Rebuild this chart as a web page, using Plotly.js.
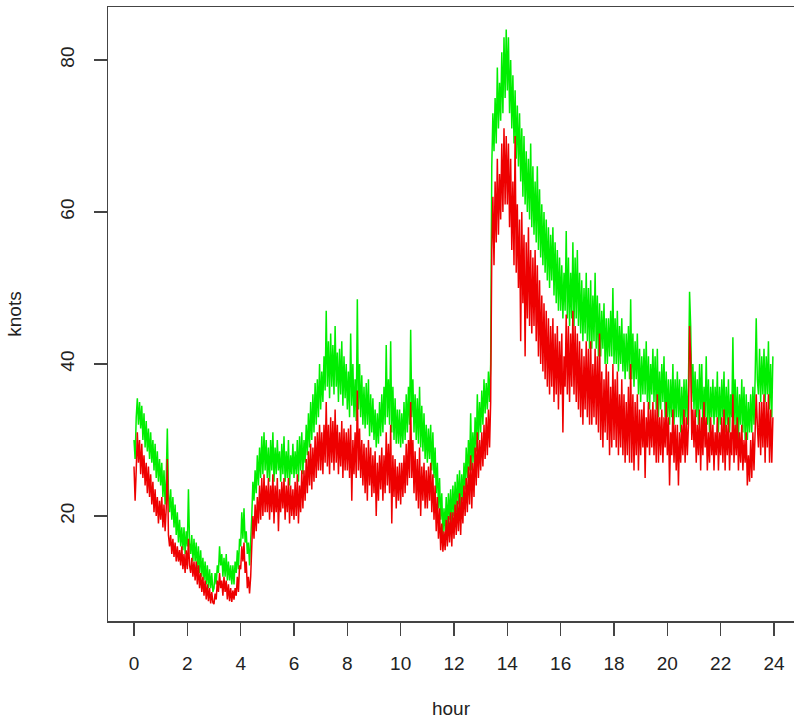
<!DOCTYPE html>
<html>
<head>
<meta charset="utf-8">
<script src="https://cdn.plot.ly/plotly-3.0.1.min.js"></script>
<style>html,body{margin:0;padding:0;background:#fff;}#chart{width:794px;height:726px;}</style>
</head>
<body>
<div id="chart"></div>
<script>
// 2.5-minute samples, one row per hour (24 per row)
var greenKnots = [
  30, 27.5, 33, 35.5, 32, 35, 31.5, 34.5, 30, 33.5, 29, 32.5, 28.5, 31.5, 27.5, 31, 27, 30, 26, 29.5, 25, 28.5, 24.5, 27.5,
  24, 27, 22.5, 26, 21.5, 25, 31.5, 23, 20.5, 23.5, 19.5, 22.5, 18.5, 21.5, 17.5, 20.5, 16.5, 19.5, 16, 18.5, 15.5, 18.5, 15, 18,
  16, 23.5, 16.5, 15, 17.5, 14, 17, 14, 16.5, 13, 16, 12.5, 15.5, 12, 14.5, 11.5, 14, 11, 13.5, 10.5, 13, 10.5, 12.5, 10,
  10.5, 12.5, 11, 13.5, 12.5, 16, 13.5, 15, 12, 14.5, 12, 15, 11.5, 14, 11.5, 13.5, 11, 13.5, 11, 14, 12.5, 15.5, 13, 17,
  16, 20.5, 17, 21, 16.5, 18, 15, 16.5, 13.5, 16, 20, 24.5, 22, 26, 23, 28, 24, 29, 25, 30.5, 25.5, 31, 26, 30,
  25, 29, 24.5, 30, 26, 31, 24.5, 29, 25.5, 30, 26, 28.5, 24.5, 29.5, 25.5, 30.5, 24.5, 28.5, 25, 30, 24, 28, 25.5, 29.5,
  25, 28.5, 25.5, 30, 24.5, 30.5, 26, 31, 25.5, 30, 27, 32, 28, 33.5, 29, 35, 30, 36, 31, 37.5, 32, 38, 33, 40,
  34, 39, 35, 41, 36.5, 47, 37, 43, 35.5, 44, 37, 42.5, 36, 45, 37, 41.5, 35, 42, 36, 43, 34.5, 41, 35.5, 40,
  34, 39, 33, 44, 34.5, 40, 33, 38, 32.5, 48.5, 34, 40, 33, 38.5, 32, 37, 31.5, 37.5, 32, 38, 30.5, 36, 31, 35.5,
  30, 34, 29, 33.5, 29.5, 35, 30.5, 36, 31, 37, 32, 42.5, 33, 38, 32, 43, 31, 37, 30, 35.5, 29.5, 34, 29.5, 34,
  29, 33.5, 29.5, 35, 30, 36, 31, 37, 32, 44.5, 33, 38, 31, 36, 30, 35.5, 29.5, 37, 29, 34.5, 28.5, 33.5, 27.5, 32,
  27, 31.5, 27.5, 32, 26, 31, 25, 29, 23, 27, 21, 25, 19.5, 23, 17.5, 21, 18, 22.5, 18.5, 23, 19.5, 23.5, 19, 24,
  20, 24.5, 20.5, 25.5, 21.5, 26, 21, 25.5, 22, 27, 23.5, 29, 25, 30, 26, 33.5, 26, 31, 27, 33, 28.5, 36, 30, 35,
  31, 36.5, 32, 38, 33.5, 37.5, 34, 39, 35, 40, 66, 73, 68, 75, 69, 79, 71, 77, 72, 81, 73, 83, 75, 84,
  76, 83, 73, 80, 71, 78, 69, 76, 67, 74, 66, 73, 64, 71, 62, 70, 61, 68, 60, 67, 59, 69, 58, 66,
  57, 64, 56, 66, 55, 63, 54, 61, 53, 60, 52, 59, 51, 58, 50, 57, 51, 58, 49, 56, 48, 55, 47, 54,
  47, 53, 46, 52, 47, 57.5, 46, 54, 45, 52, 46, 56, 45, 54, 46, 55, 45, 52, 44, 51, 43, 50, 44, 52,
  43, 50, 42, 51, 42, 49, 43, 52, 42, 49, 41, 48, 41, 47, 42, 48, 40, 46, 40, 46, 41, 47, 41, 50,
  40, 46, 40, 47, 39, 45, 40, 46, 39, 44, 38, 44, 39, 45, 38, 48.5, 38, 44, 37, 43, 38, 44, 36, 42,
  35, 41, 36, 42, 36, 43, 35, 41, 34, 40, 36, 42, 35, 41, 34, 42, 33, 39, 34, 40, 35, 41, 33, 39,
  33, 38, 32, 38, 33, 40, 32, 38, 33, 39, 33, 38, 31, 37, 32, 38, 33, 38, 32, 37, 49.5, 45, 35, 40,
  34, 39, 33, 38, 32, 40, 34, 40, 31, 37, 33, 41, 32, 38, 31, 37, 33, 38, 32, 37, 33, 39, 31, 37,
  32, 38, 33, 39, 31, 37, 32, 38, 31, 36, 33, 43.5, 32, 38, 31, 37, 30, 36, 32, 38, 31, 37, 30, 36,
  30, 35, 31, 36, 31, 37, 32, 38, 46, 38, 36, 42, 35, 41, 36, 42, 35, 41, 36, 43, 34, 40, 33, 41
];
var redKnots = [
  26.5, 22, 26, 31, 27, 30, 25.5, 29.5, 25, 28, 24, 27, 23, 26.5, 22.5, 25.5, 21.5, 24.5, 20.5, 23.5, 20, 22.5, 19, 22,
  19.5, 22.5, 18.5, 21.5, 18, 21, 27.5, 17.5, 16, 17.5, 15, 17, 14.6, 16.5, 14, 16, 14, 15.5, 13.5, 16, 13, 15, 12.5, 15.5,
  13, 17, 13.5, 12.5, 14.5, 12, 14, 11.5, 14, 11, 13.5, 10.5, 12.5, 10, 12, 9.5, 11.5, 9, 11, 8.8, 10.5, 8.5, 10, 8.6,
  8.4, 9.8, 9, 11.5, 10, 12.5, 10.5, 11.5, 9.5, 12, 10, 11.5, 9, 11, 8.8, 10.5, 8.7, 10.2, 9, 10.5, 9.5, 12, 10, 13.5,
  13, 16, 14, 16.5, 12.5, 14, 10.5, 12, 9.8, 12, 16, 20, 17, 21.5, 18, 22.5, 19, 24, 19.5, 25, 20, 25.5, 20.5, 24,
  20.5, 25, 19.5, 24, 20.5, 25.5, 19, 24, 20.5, 25, 18, 23.5, 20.5, 24.5, 21, 25, 19.5, 24, 20.5, 25, 19, 24, 20, 23.5,
  19.5, 24.5, 20, 25.5, 19, 24, 20.5, 26, 21, 26, 22, 27.5, 23, 28.5, 24, 29.5, 23.5, 29, 24.5, 30.5, 25, 31, 26, 32,
  26, 31, 25.5, 32, 27, 35, 26.5, 32, 25.5, 33, 27, 32.5, 26, 34, 27, 32, 25.5, 31, 26.5, 32.5, 25, 31.5, 26, 31,
  26, 31.5, 25, 32, 22, 30, 25.5, 31, 25, 36.5, 26, 31.5, 25, 30, 24, 29.5, 23, 29, 22, 30, 24, 29, 22.5, 28,
  23, 28.5, 20, 27, 22, 28, 23.5, 29, 22, 28, 23, 31, 24, 29.5, 23, 32, 19, 28, 22.5, 27.5, 21, 26.5, 22, 27,
  21.5, 27, 22.5, 28, 23, 29.5, 24, 30, 25, 35, 25, 30, 23, 28.5, 22, 27.5, 21, 29, 20, 26.5, 22, 27, 21, 26,
  21, 26.5, 22, 27, 20.5, 25.5, 19.5, 24, 18, 22.5, 17, 21, 15.5, 19, 15.3, 18, 15.5, 19.5, 16, 20, 16.5, 20.5, 16, 20.5,
  17, 21.5, 17.5, 22, 18, 23, 17.5, 22.5, 19, 24, 20, 25, 20.5, 26.5, 21.5, 28, 21, 27, 22.5, 29, 24, 31, 25, 30,
  26, 31, 26.5, 32, 27.5, 33, 28, 34, 29, 35, 55, 62, 53, 64, 56, 67, 57, 65, 59, 69, 60, 71, 61, 70,
  61, 69, 58, 67, 55, 64, 53, 70, 52, 61, 50, 59, 43, 60, 48, 57, 41, 56, 46, 58, 45, 55, 44, 54,
  45, 55, 43, 53, 41, 51, 40, 49, 39, 48, 38, 47, 37, 46, 36, 45, 37, 46, 35, 44, 36, 45, 34, 43,
  36, 44, 31, 41, 37, 46.5, 36, 45, 35, 44, 37, 47, 36, 45, 35, 44, 34, 43, 33, 42, 32, 41, 34, 43,
  33, 42, 32, 43, 32, 40, 33, 42, 32, 41, 31, 44, 30, 39, 29, 38, 31, 40, 30, 39, 28, 37, 29, 40,
  30, 38, 29, 39, 28, 36, 29, 38, 28, 36, 27, 35, 28, 37, 27, 40, 27, 36, 26, 35, 28, 36, 26, 34,
  28, 34, 29, 35, 25, 33, 29, 35, 28, 34, 29, 35, 28, 34, 27, 36, 27, 33, 28, 34, 27, 33, 29, 35,
  28, 33, 24, 31, 28, 34, 27, 32, 26, 32, 24, 31, 27, 32, 28, 34, 27, 33, 28, 32, 45, 41, 30, 34,
  29, 34, 27, 32, 28, 34, 26, 33, 28, 35, 29, 33, 26, 31, 27, 33, 28, 32, 26, 31, 28, 33, 26, 31,
  28, 33, 27, 34, 26, 32, 28, 33, 26, 31, 28, 36, 27, 32, 28, 33, 26, 31, 27, 32, 26, 30, 27, 31,
  24, 28, 24.5, 30, 25, 31, 26, 33, 36, 32, 29, 35, 28, 35, 29, 36, 27, 35, 29, 36, 27, 34, 27, 33
];
var xTicks = [0, 2, 4, 6, 8, 10, 12, 14, 16, 18, 20, 22, 24];
var yTicks = [20, 40, 60, 80];
var stepMinutes = 2.5;
function toHours(arr) { return arr.map(function (_, i) { return i * stepMinutes / 60; }); }

var font = {family: '"Liberation Sans", Arial, Helvetica, sans-serif', size: 19, color: '#222'};

var traces = [
  {x: toHours(greenKnots), y: greenKnots, type: 'scatter', mode: 'lines', line: {color: '#00ee00', width: 1.5}, hoverinfo: 'skip'},
  {x: toHours(redKnots), y: redKnots, type: 'scatter', mode: 'lines', line: {color: '#ee0000', width: 1.5}, hoverinfo: 'skip'}
];

var layout = {
  width: 794, height: 726,
  margin: {l: 108, r: 0, t: 7, b: 105},
  paper_bgcolor: '#fff', plot_bgcolor: '#fff',
  showlegend: false,
  font: font,
  xaxis: {
    range: [-0.975, 24.75],
    tickvals: xTicks, ticktext: xTicks.map(String),
    ticks: 'outside', ticklen: 13, tickwidth: 1.5, tickcolor: '#444',
    showline: true, linecolor: '#444', linewidth: 1.5, mirror: true,
    showgrid: false, zeroline: false,
    ticklabelstandoff: 12,
    title: {text: 'hour', font: font, standoff: 28},
    automargin: false
  },
  yaxis: {
    range: [6.18, 86.97],
    tickvals: yTicks, ticktext: yTicks.map(String),
    tickangle: -90,
    ticks: 'outside', ticklen: 13, tickwidth: 1.5, tickcolor: '#444',
    showline: true, linecolor: '#444', linewidth: 1.5, mirror: false,
    showgrid: false, zeroline: false,
    ticklabelstandoff: 12,
    title: {text: 'knots', font: font, standoff: 30},
    automargin: false
  }
};

Plotly.newPlot('chart', traces, layout, {staticPlot: true, displayModeBar: false});
</script>
</body>
</html>
